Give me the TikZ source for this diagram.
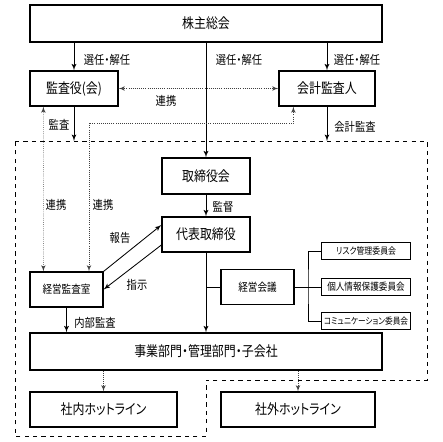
\documentclass[tikz,border=0pt]{standalone}
\usepackage{fontspec}
\setmainfont{Noto Sans CJK JP}[RawFeature=+palt, FakeStretch=0.85]
\usepackage{graphicx}
\usepackage{tikz}
\usetikzlibrary{arrows,positioning,calc}
\tikzstyle{line} = [draw, line width=0.6pt, -latex']
\tikzstyle{renkei} = [draw, densely dotted, line width=0.5pt, black!75, latex'-latex']
\tikzset{
    box/.style={draw, line width=0.9pt, inner sep=0pt, font=\fontsize{10}{12}\selectfont},
    subbox/.style={box, minimum width=1.825cm, minimum height=0.875cm, font=\fontsize{8}{9.6}\selectfont},
    iinkai/.style={draw, line width=0.7pt, inner sep=0pt, minimum width=2.2cm, minimum height=0.42cm, font=\fontsize{7.2}{8.6}\selectfont},
    lbl/.style={inner sep=0pt, font=\fontsize{8.6}{10.3}\selectfont}
}

\begin{document}
\begin{tikzpicture}[x=0.025cm, y=-0.025cm]
            \useasboundingbox (0,0) rectangle (442,442);

            % Draw boxes
            \node[box, minimum width=8.8cm, minimum height=0.925cm] (soukai) at (206,23.5) {株主総会};
            \node[box, minimum width=2.2cm, minimum height=0.875cm] (kansayaku) at (74,88.5) {監査役(会)};
            \node[box, minimum width=2.4cm, minimum height=0.875cm] (kaikei) at (327,88.5) {会計監査人};
            \node[box, minimum width=2.2cm, minimum height=0.9cm] (torikai) at (206,176) {取締役会};
            \node[box, minimum width=2.2cm, minimum height=0.875cm] (daihyo) at (206,234.5) {代表取締役};
            \node[subbox] (kansashitsu) at (66.5,289.5) {経営監査室};
            \node[subbox] (kaigi) at (257.5,287) {経営会議};
            \node[iinkai, font=\fontsize{6.6}{7.9}\selectfont] (risk) at (366,251) {リスク管理委員会};
            \node[iinkai] (kojin) at (366,287) {個人情報保護委員会};
            \node[iinkai, font=\fontsize{6.4}{7.7}\selectfont] (comm) at (366,321) {コミュニケーション委員会};
            \node[box, minimum width=8.8cm, minimum height=0.925cm] (jigyo) at (206,351.5) {事業部門・管理部門・子会社};
            \node[box, minimum width=3.675cm, minimum height=0.875cm] (shanai) at (103.5,409.5) {社内ホットライン};
            \node[box, minimum width=3.85cm, minimum height=0.875cm] (shagai) at (298,409.5) {社外ホットライン};

            % Draw dashed frame
            \draw[dashed, line width=0.6pt] (15,141) -- (427,141) -- (427,380) -- (206,380) -- (206,436) -- (15,436) -- cycle;
            \coordinate (kansaend) at (74,141);
            \coordinate (kaikeiend) at (327,141);
            \coordinate (kink) at (89,123);
            \coordinate (br) at (308,287);

            % Draw arrows
            \path[line] (kansayaku.north |- soukai.south) -- (kansayaku.north);
            \path[line] (kaikei.north |- soukai.south) -- (kaikei.north);
            \path[line] (soukai.south) -- (torikai.north);
            \path[line] (kansayaku.south) -- (kansaend);
            \path[line] (kaikei.south) -- (kaikeiend);
            \path[line] (torikai.south) -- (daihyo.north);
            \path[line] (daihyo.south) -- (jigyo.north);
            \path[line] (kansashitsu.south) -- (kansashitsu.south |- jigyo.north);
            \path[line] (kansashitsu.north east) -- ($(daihyo.west)+(0,-9.5)$);
            \path[line] ($(daihyo.west)+(0,10.5)$) -- (kansashitsu.east);
            \draw[line width=0.6pt] (kaigi.west) -- (kaigi.west -| daihyo.south);
            \draw[line width=0.6pt] (kaigi.east) -- (kojin.west);
            \draw[line width=0.6pt] (risk.west) -| (br) |- (comm.west);

            % Draw dotted links
            \path[renkei] (kansayaku.east) -- (kaikei.west);
            \path[renkei] ($(kansayaku.south west)+(14,0)$) -- ($(kansashitsu.north west)+(14,0)$);
            \path[renkei] ($(kaikei.south west)+(15,0)$) |- (kink) -- (kansashitsu.north -| kink);
            \path[renkei, -latex'] (jigyo.south -| shanai.north) -- (shanai.north);
            \path[renkei, -latex'] (jigyo.south -| shagai.north) -- (shagai.north);

            % Add labels
            \node[lbl] (sennin1) at (107,60) {選任・解任};
            \node[lbl] (sennin2) at (239,60) {選任・解任};
            \node[lbl] (sennin3) at (357,60) {選任・解任};
            \node[lbl] (renkei1) at (166,101) {連携};
            \node[lbl] (kansa) at (59,125) {監査};
            \node[lbl] (kaikeikansa) at (355,127) {会計監査};
            \node[lbl] (renkei2) at (56,205) {連携};
            \node[lbl] (renkei3) at (103,205) {連携};
            \node[lbl] (kantoku) at (223,207) {監督};
            \node[lbl] (houkoku) at (120,238) {報告};
            \node[lbl] (shiji) at (137,285) {指示};
            \node[lbl] (naibu) at (95,323) {内部監査};
        \end{tikzpicture}
\end{document}
